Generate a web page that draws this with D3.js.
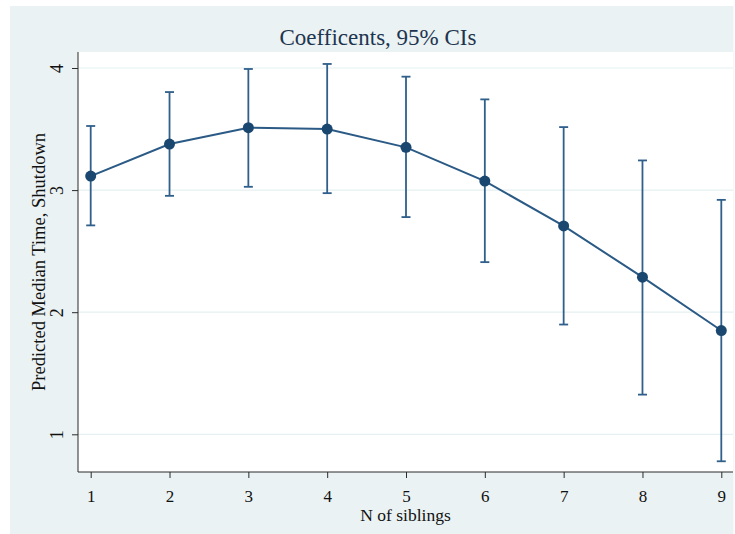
<!DOCTYPE html>
<html>
<head>
<meta charset="utf-8">
<script src="https://cdn.jsdelivr.net/npm/d3@7"></script>
<style>
  html, body { margin: 0; padding: 0; background: #ffffff; }
  svg { display: block; }
</style>
</head>
<body>
<svg id="chart" width="735" height="534"></svg>
<script>
const siblings = [1, 2, 3, 4, 5, 6, 7, 8, 9];
const estimate = [3.115, 3.377, 3.511, 3.500, 3.350, 3.074, 2.707, 2.287, 1.850];
const lower    = [2.711, 2.953, 3.027, 2.975, 2.779, 2.410, 1.899, 1.325, 0.779];
const upper    = [3.525, 3.803, 3.992, 4.033, 3.929, 3.743, 3.516, 3.243, 2.920];
const yTicks = [1, 2, 3, 4];
const xTicks = [1, 2, 3, 4, 5, 6, 7, 8, 9];
const titleText = "Coefficents, 95% CIs";
const xTitle = "N of siblings";
const yTitle = "Predicted Median Time, Shutdown";

const svg = d3.select("#chart");
const font = "'Liberation Serif', 'Times New Roman', serif";
const navy = "#1a476f";

// graph background
svg.append("rect").attr("x", 10).attr("y", 6).attr("width", 723.5).attr("height", 528)
  .attr("fill", "#eaf2f3");

const plot = { left: 78, right: 733, top: 52, bottom: 472 };
svg.append("rect").attr("x", plot.left).attr("y", plot.top)
  .attr("width", plot.right - plot.left).attr("height", plot.bottom - plot.top)
  .attr("fill", "#ffffff");

const x = d3.scaleLinear().domain([1, 9]).range([90.7, 721.3]);
const y = d3.scaleLinear().domain([1, 4]).range([434.3, 68]);

// gridlines
svg.append("g").selectAll("line").data(yTicks).join("line")
  .attr("x1", plot.left).attr("x2", plot.right)
  .attr("y1", d => y(d)).attr("y2", d => y(d))
  .attr("stroke", "#e6eff1").attr("stroke-width", 1.2);

// axes
const yAxis = d3.axisLeft(y).tickValues(yTicks).tickSize(6).tickPadding(6).tickFormat(d3.format("d"));
const gy = svg.append("g").attr("transform", `translate(${plot.left},0)`).call(yAxis);
gy.select(".domain").attr("d", `M0,${plot.top}V${plot.bottom}`).attr("stroke", "#2b2b2b");
gy.selectAll(".tick line").attr("stroke", "#2b2b2b");
gy.selectAll(".tick text")
  .attr("font-family", font).attr("font-size", 18).attr("fill", "#111")
  .attr("x", null).attr("dy", null)
  .attr("text-anchor", "middle")
  .attr("transform", "translate(-15,0) rotate(-90)")
  .attr("y", 0);

const xAxis = d3.axisBottom(x).tickValues(xTicks).tickSize(6).tickPadding(6).tickFormat(d3.format("d"));
const gx = svg.append("g").attr("transform", `translate(0,${plot.bottom})`).call(xAxis);
gx.select(".domain").attr("d", `M${plot.left},0H${plot.right}`).attr("stroke", "#2b2b2b");
gx.selectAll(".tick line").attr("stroke", "#2b2b2b");
gx.selectAll(".tick text")
  .attr("font-family", font).attr("font-size", 17).attr("fill", "#111")
  .attr("dy", null).attr("y", 29.5);

// error bars
const eb = svg.append("g").attr("stroke", "#2f5f8a").attr("stroke-width", 1.8).attr("fill", "none");
const idx = d3.range(siblings.length);
eb.selectAll("line.v").data(idx).join("line").attr("class", "v")
  .attr("x1", i => x(siblings[i])).attr("x2", i => x(siblings[i]))
  .attr("y1", i => y(lower[i])).attr("y2", i => y(upper[i]));
eb.selectAll("line.t").data(idx).join("line").attr("class", "t")
  .attr("x1", i => x(siblings[i]) - 4.5).attr("x2", i => x(siblings[i]) + 4.5)
  .attr("y1", i => y(upper[i])).attr("y2", i => y(upper[i]));
eb.selectAll("line.b").data(idx).join("line").attr("class", "b")
  .attr("x1", i => x(siblings[i]) - 4.5).attr("x2", i => x(siblings[i]) + 4.5)
  .attr("y1", i => y(lower[i])).attr("y2", i => y(lower[i]));

// line
const line = d3.line().x(i => x(siblings[i])).y(i => y(estimate[i]));
svg.append("path").datum(idx).attr("d", line)
  .attr("fill", "none").attr("stroke", "#2a5a85").attr("stroke-width", 2);

// markers
svg.append("g").selectAll("circle").data(idx).join("circle")
  .attr("cx", i => x(siblings[i])).attr("cy", i => y(estimate[i]))
  .attr("r", 5.5).attr("fill", navy);

// titles
svg.append("text").attr("x", 378).attr("y", 45).attr("text-anchor", "middle")
  .attr("font-family", font).attr("font-size", 23).attr("fill", "#1e3550")
  .text(titleText);
svg.append("text").attr("x", (plot.left + plot.right) / 2).attr("y", 521).attr("text-anchor", "middle")
  .attr("font-family", font).attr("font-size", 17.5).attr("fill", "#111")
  .text(xTitle);
svg.append("text").attr("transform", `translate(45,${(plot.top + plot.bottom) / 2}) rotate(-90)`)
  .attr("text-anchor", "middle")
  .attr("font-family", font).attr("font-size", 18.5).attr("fill", "#111")
  .text(yTitle);
</script>
</body>
</html>
